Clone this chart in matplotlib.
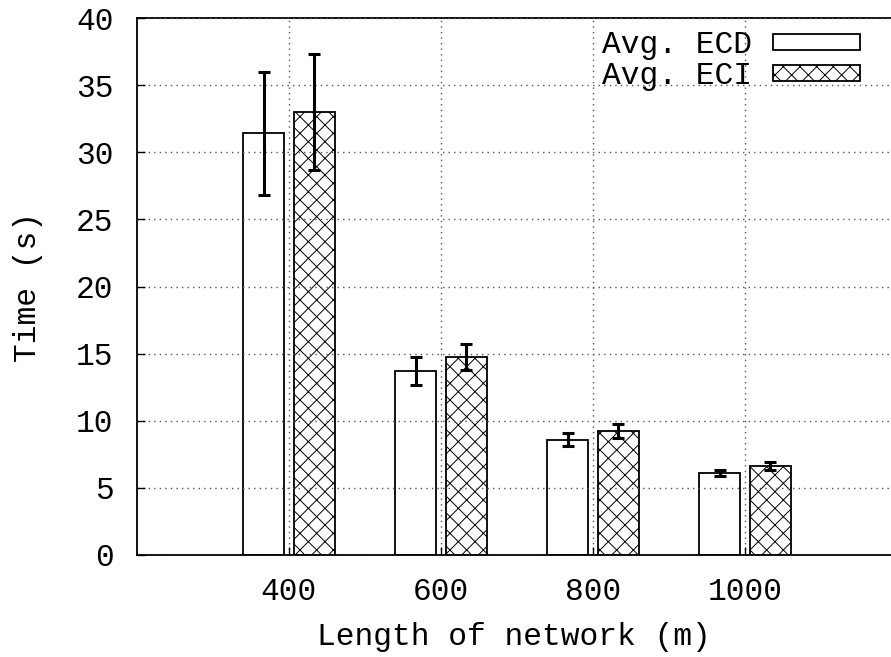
import matplotlib
matplotlib.use("Agg")
import matplotlib.pyplot as plt
import numpy as np

plt.rcParams['font.family'] = ['Liberation Mono', 'DejaVu Sans Mono']
plt.rcParams['hatch.linewidth'] = 0.7

lengths = ["400", "600", "800", "1000"]
ecd_mean = [31.4, 13.7, 8.6, 6.1]
ecd_err = [4.55, 1.05, 0.5, 0.2]
eci_mean = [33.0, 14.75, 9.25, 6.6]
eci_err = [4.3, 0.95, 0.5, 0.3]

FS = 22.5

W, H = 891, 657
fig = plt.figure(figsize=(W / 100, H / 100), dpi=100)
left, right, top, bottom = 137, 891, 18, 555
ax = fig.add_axes([left / W, 1 - bottom / H, (right - left) / W, (bottom - top) / H])

x = np.arange(1, len(lengths) + 1)
width = 0.272
off = 0.166

ax.bar(x - off, ecd_mean, width, facecolor='white', edgecolor='black',
       linewidth=1.3, zorder=2, label='Avg. ECD')
ax.bar(x + off, eci_mean, width, facecolor='white', edgecolor='black',
       linewidth=1.3, hatch='xx', zorder=2, label='Avg. ECI')
ax.errorbar(x - off, ecd_mean, yerr=ecd_err, fmt='none', ecolor='black',
            elinewidth=2.2, capsize=4, capthick=2.2, zorder=4)
ax.errorbar(x + off, eci_mean, yerr=eci_err, fmt='none', ecolor='black',
            elinewidth=2.2, capsize=4, capthick=2.2, zorder=4)

ax.set_xlim(0, (right - left) / 152)
ax.set_ylim(0, 40)
ax.set_xticks(x)
ax.set_xticklabels(lengths)
ax.set_yticks(np.arange(0, 41, 5))

ax.grid(True, color='#555555', linestyle=(0, (1, 3)), linewidth=1.0, zorder=3)
ax.set_axisbelow(False)
for gl in ax.get_xgridlines() + ax.get_ygridlines():
    gl.set_zorder(3)

ax.tick_params(direction='in', length=6, width=1.0, labelsize=FS)
ax.tick_params(axis='y', pad=17)
ax.tick_params(axis='x', pad=16)
for s in ['left', 'bottom', 'top']:
    ax.spines[s].set_linewidth(1.3)
ax.spines['right'].set_visible(False)

ax.set_xlabel('Length of network (m)', fontsize=FS, labelpad=11)
ax.set_ylabel('Time (s)', fontsize=FS, labelpad=24)

leg = ax.legend(loc='upper right', bbox_to_anchor=(0.996, 1.030), frameon=False,
                markerfirst=False, fontsize=FS, handlelength=2.77,
                handleheight=0.41, handletextpad=0.67, labelspacing=0.03,
                borderpad=0.4)

fig.savefig('out.png', dpi=100)
